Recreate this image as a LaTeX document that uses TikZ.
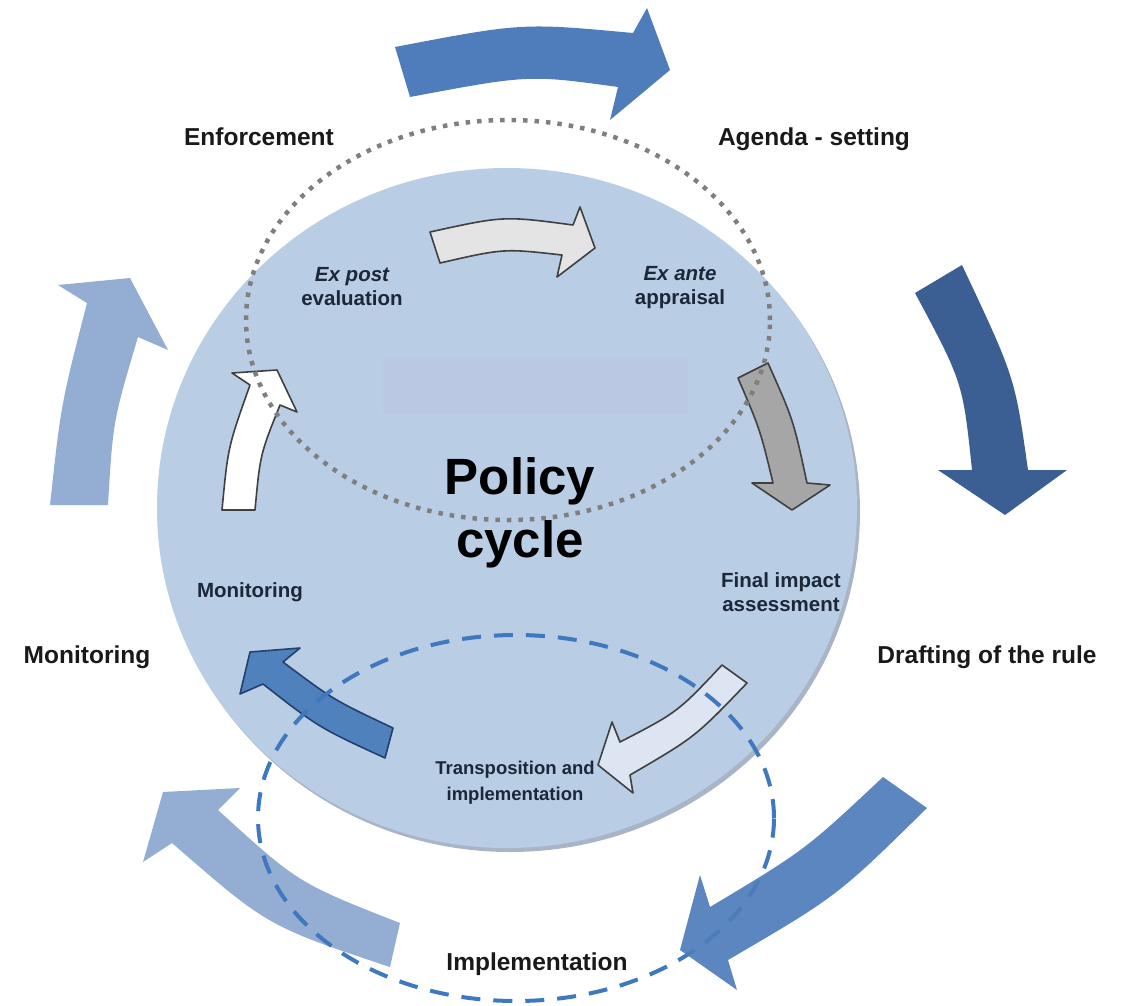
\documentclass[tikz,border=0pt]{standalone}
\usepackage{fontspec}
\setmainfont{Liberation Sans}
\definecolor{arrowmid}{HTML}{4F7DBB}
\definecolor{arrowdark}{HTML}{3B5F93}
\definecolor{arrowlight}{HTML}{94ADD3}
\definecolor{circfill}{HTML}{B9CDE5}
\definecolor{circshadow}{HTML}{A9B5C6}
\definecolor{rectfill}{HTML}{BAC8E3}
\definecolor{dotgrey}{HTML}{7F7F7F}
\definecolor{dashblue}{HTML}{3F78BE}
\definecolor{inline}{HTML}{404040}
\definecolor{innertxt}{HTML}{1C2838}
\definecolor{greylight}{HTML}{E4E4E4}
\definecolor{greymid}{HTML}{A6A6A6}
\definecolor{paleblue}{HTML}{DCE5F1}
\definecolor{innerblue}{HTML}{4F81BD}
\definecolor{innerblueline}{HTML}{24406E}
\begin{document}
\begin{tikzpicture}[x=1pt,y=-1pt,
  outerlbl/.style={font=\bfseries\fontsize{24.5}{28}\selectfont, text=black!90, inner sep=0pt},
  innerlbl/.style={font=\bfseries\fontsize{20.5}{24}\selectfont, text=innertxt, align=center, inner sep=0pt},
  inarrow/.style={draw=inline, line width=1.6pt, line join=round},
  dotring/.style={draw=dotgrey, line width=4.5pt, dash pattern=on 4.5pt off 7pt},
  dashring/.style={draw=dashblue, line width=4pt, dash pattern=on 19pt off 13pt},
]
\useasboundingbox (0,0) rectangle (1125,1005);

% outer arrows
\fill[arrowmid] (395,47) .. controls (522,22.7) .. (633,33) -- (647,8) -- (670,70) -- (610,120) -- (618,87) .. controls (528.7,74.7) .. (410,97) -- cycle;
\fill[arrowdark] (962,265) .. controls (1015,377.5) .. (1028,470) -- (1067,470) -- (1005,515) -- (938,470) -- (972,470) .. controls (962.8,382.2) .. (915,293) -- cycle;
\fill[arrowlight] (400,923) .. controls (298.3,883.2) .. (218,810) -- (240,788) -- (163,792) -- (143,862) -- (172,843) .. controls (267.7,926.3) .. (390,967) -- cycle;
\fill[arrowlight] (50,505) .. controls (61,404) .. (87,303) -- (58,285) -- (130,278) -- (168,350) -- (138,337) .. controls (113,421) .. (108,505) -- cycle;

% main circle
\fill[circshadow] (510,512) ellipse [x radius=350pt, y radius=340pt];
\fill[circfill] (507,508) ellipse [x radius=350pt, y radius=340pt];
\fill[rectfill] (383,357) rectangle (688,413);

% inner arrows
\filldraw[inarrow, fill=greylight] (430,232) .. controls (503.5,215.8) .. (573,225) -- (580,207) -- (595,248) -- (557,277) -- (562,255) .. controls (503.7,248.4) .. (440,263) -- cycle;
\filldraw[inarrow, fill=greymid] (768,363) .. controls (793.5,420.3) .. (807,483) -- (830,485) -- (792,510) -- (752,483) -- (773,483) .. controls (760.2,429.8) .. (738,378) -- cycle;
\filldraw[inarrow, fill=paleblue] (747,683) .. controls (695.2,737) .. (630,775) -- (633,793) -- (598,765) -- (612,722) -- (620,742) .. controls (677.6,712.2) .. (722,665) -- cycle;
\filldraw[inarrow, draw=innerblueline, fill=innerblue] (393,728) .. controls (333.5,699.9) .. (283,662) -- (300,648) -- (250,652) -- (240,694) -- (263,684) .. controls (318.7,727.5) .. (385,758) -- cycle;
\filldraw[inarrow, fill=white] (222,510) .. controls (228,446.8) .. (250,385) -- (232,373) -- (277,370) -- (297,412) -- (280,405) .. controls (260.2,454.2) .. (255,510) -- cycle;

% rings
\draw[dotring] (508,320) ellipse [x radius=262pt, y radius=200pt];
\draw[dashring] (516,818) ellipse [x radius=258pt, y radius=183pt];

% bottom-right outer arrow (over the dashed ring)
\fill[arrowmid, opacity=.93] (927,808) .. controls (837.5,896) .. (728,960) -- (737,990) -- (680,950) -- (700,875) -- (710,907) .. controls (805.2,850) .. (883,777) -- cycle;

% outer labels
\node[outerlbl] (enf) at (259,137) {Enforcement};
\node[outerlbl] (agenda) at (814,139) {Agenda - setting};
\node[outerlbl] (draft) at (987,657) {Drafting of the rule};
\node[outerlbl] (impl) at (537,964) {Implementation};
\node[outerlbl] (mon) at (87,657) {Monitoring};

% inner labels
\node[innerlbl] (expost) at (352,287) {\itshape Ex post\\evaluation};
\node[innerlbl] (exante) at (680,288) {\itshape Ex ante\\appraisal};
\node[innerlbl] (final) at (781,592) {Final impact\\assessment};
\node[innerlbl, font=\bfseries\fontsize{18.5}{26}\selectfont] (transp) at (515,783) {Transposition and\\implementation};
\node[innerlbl] (monin) at (250,592) {Monitoring};
\node[font=\bfseries\fontsize{51}{63}\selectfont, text=black, align=center, inner sep=0pt] (policy) at (520,513) {Policy\\cycle};
\end{tikzpicture}
\end{document}
